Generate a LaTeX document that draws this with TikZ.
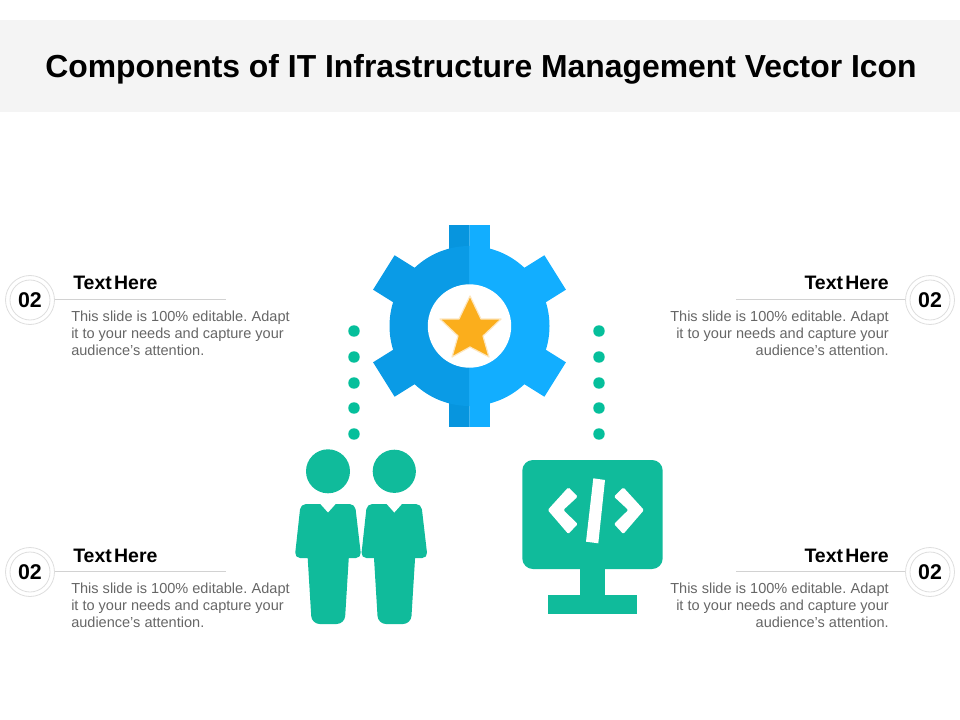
\documentclass[tikz,border=0pt]{standalone}
\usepackage{fontspec}
\setmainfont{Liberation Sans}
\definecolor{band}{HTML}{F4F4F4}
\definecolor{gearL}{HTML}{0A9BE6}
\definecolor{gearLd}{HTML}{0795DE}
\definecolor{gearR}{HTML}{12AEFF}
\definecolor{teal}{HTML}{10BB9B}
\definecolor{dotc}{HTML}{05BF9B}
\definecolor{star}{HTML}{FBAE1C}
\definecolor{starglow}{HTML}{FDE6BE}
\definecolor{ringc}{HTML}{DEDEDE}
\definecolor{rulec}{HTML}{D2D2D2}
\definecolor{bodyt}{HTML}{666666}
\tikzset{
  x=0.75pt,y=-0.75pt,
  headtxt/.style={font=\fontsize{14.6pt}{17pt}\bfseries,text=black,inner sep=0pt},
  desctxt/.style={font=\fontsize{10.9pt}{13pt}\selectfont,text=bodyt,inner sep=0pt},
  numtxt/.style={circle,minimum size=36.75pt,inner sep=0pt,font=\fontsize{16pt}{19pt}\bfseries,text=black},
  ringo/.style={draw=ringc,line width=0.6pt,fill=white},
  ruleline/.style={draw=rulec,line width=0.7pt},
  dotn/.style={circle,fill=dotc,minimum size=8.6pt,inner sep=0pt},
}
\newcommand{\personbody}{
  \fill[teal,rounded corners=6pt] (306,530) -- (350.5,530) -- (344.7,624) -- (311.7,624) -- cycle;
  \fill[teal,rounded corners=4pt] (300.6,504) -- (355,504) -- (361.3,558) -- (294.7,558) -- cycle;
  \fill[white] (319.5,503) -- (336.5,503) -- (328,512.5) -- cycle;
}
\newcommand{\callout}[2]{
  \begin{scope}[shift={(0,#2)}]
    \draw[ringo] (30,300) circle[radius=24.5];
    \draw[ringo] (30,300) circle[radius=20];
    \node[numtxt] (n#1l) at (30,300) {02};
    \coordinate (e#1l) at (226,299);
    \draw[ruleline] (n#1l.east |- e#1l) -- (e#1l);
    \node[headtxt,anchor=base west] (h#1l) at (73,290) {Text\hspace{0.12em}Here};
    \node[desctxt,anchor=north west,align=left] (d#1l) at (71,310.5) {This slide is 100\% editable.\hspace{0.3em}Adapt\\it to your needs and capture your\\audience's attention.};
    \draw[ringo] (930,300) circle[radius=24.5];
    \draw[ringo] (930,300) circle[radius=20];
    \node[numtxt] (n#1r) at (930,300) {02};
    \coordinate (e#1r) at (736,299);
    \draw[ruleline] (n#1r.west |- e#1r) -- (e#1r);
    \node[headtxt,anchor=base east] (h#1r) at (889,290) {Text\hspace{0.12em}Here};
    \node[desctxt,anchor=north east,align=right] (d#1r) at (889,310.5) {This slide is 100\% editable.\hspace{0.3em}Adapt\\it to your needs and capture your\\audience's attention.};
  \end{scope}
}
\begin{document}
\begin{tikzpicture}
\useasboundingbox (0,0) rectangle (960,720);
\fill[band] (0,20) rectangle (960,112);
\node[inner sep=0pt,font=\fontsize{23.9pt}{28pt}\bfseries,text=black] (title) at (481,69.5) {Components of IT Infrastructure Management Vector Icon};

% gear
\begin{scope}
\clip (360,215) rectangle (469.5,435);
\fill[gearLd] (449.2,225) rectangle (469.5,427);
\fill[gearL] (469.5,326) circle[radius=80];
\foreach \a in {32,148,212,328}{
  \fill[gearL,shift={(469.5,326)},rotate=\a] (70,-20.3) rectangle (101,20.3);
}
\end{scope}
\begin{scope}
\clip (469.5,215) rectangle (580,435);
\fill[gearR] (469.5,326) circle[radius=80];
\fill[gearR] (440,225) rectangle (489.8,427);
\foreach \a in {32,148,212,328}{
  \fill[gearR,shift={(469.5,326)},rotate=\a] (70,-20.3) rectangle (101,20.3);
}
\end{scope}
\fill[white] (469.5,326) circle[radius=41.7];
\filldraw[fill=star,draw=starglow,line width=0.9pt,line join=round]
  (470,296) -- (481,319) -- (501,319) -- (483,336) -- (489,357) -- (470,347) -- (452,357) -- (458,336) -- (440,319) -- (459,319) -- cycle;

% dots
\foreach \y [count=\i] in {331,357,383,408,434}{
  \node[dotn] (dl\i) at (354,\y) {};
  \node[dotn] (dr\i) at (599,\y) {};
}

% people
\fill[teal] (328,471.3) circle[radius=22];
\fill[teal] (394.3,471.3) circle[radius=21.6];
\personbody
\begin{scope}[shift={(66.3,0)}]
\personbody
\end{scope}

% monitor
\fill[teal,rounded corners=8pt] (522.3,460) rectangle (662.7,569);
\fill[teal] (580,565) rectangle (605,596);
\fill[teal] (547.7,594.7) rectangle (637.3,613.7);
\fill[white,rounded corners=1pt] (547.7,510) -- (568.3,487.3) -- (577.7,496.7) -- (563.3,510) -- (577.7,524) -- (568.3,534) -- cycle;
\fill[white,rounded corners=1pt] (644,510) -- (623.3,487.3) -- (614,496.7) -- (628.3,510) -- (614,524) -- (623.3,534) -- cycle;
\fill[white] (593.3,478.3) -- (605,480) -- (598.3,543.3) -- (586,541.7) -- cycle;

% callouts
\callout{a}{0}
\callout{b}{272}
\end{tikzpicture}
\end{document}
